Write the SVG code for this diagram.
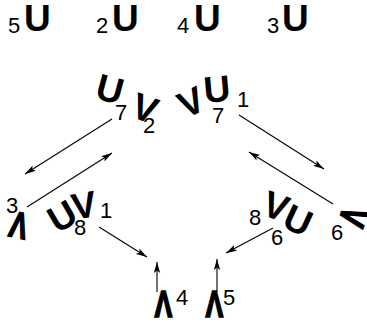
<svg xmlns="http://www.w3.org/2000/svg" width="367" height="323" viewBox="0 0 367 323">
<defs>
<marker id="ah" markerWidth="12" markerHeight="8" refX="11" refY="4" orient="auto" markerUnits="userSpaceOnUse">
<path d="M0,0.8 L11,4 L0,7.2 L2.5,4 Z" fill="#000"/>
</marker>
<style>
.b{font-family:"Liberation Sans",Arial,sans-serif;font-weight:bold;font-size:37px;fill:#000}
.d{font-family:"Liberation Sans",Arial,sans-serif;font-size:22px;fill:#000}
.c{text-anchor:middle}
.l{stroke:#000;stroke-width:1.6}
line{stroke:#000;stroke-width:1.1;marker-end:url(#ah)}
</style>
</defs>
<rect width="367" height="323" fill="#fff"/>
<g id="n1"><text class="d" x="8" y="33">5</text><text class="b" x="24" y="31">U</text></g>
<g id="n2"><text class="d" x="96" y="33">2</text><text class="b" x="112" y="31">U</text></g>
<g id="n3"><text class="d" x="177" y="33">4</text><text class="b" x="194" y="31">U</text></g>
<g id="n4"><text class="d" x="267" y="33">3</text><text class="b" x="282" y="31">U</text></g>
<g id="n5">
<text class="b c" transform="translate(110,89) rotate(15)" y="13">U</text>
<text class="d" x="115" y="120">7</text>
<text class="b c" transform="translate(145,108) rotate(20)" y="13">V</text>
<text class="d" x="143" y="133">2</text>
</g>
<g id="n6">
<text class="b c" transform="translate(191,102) rotate(-25)" y="13">V</text>
<text class="b c" transform="translate(217,89) rotate(-5)" y="13">U</text>
<text class="d" x="212" y="123">7</text>
<text class="d" x="237" y="107">1</text>
</g>
<g id="n7">
<text class="d" x="6" y="213">3</text>
<text class="b c l" transform="translate(19,225) rotate(12) scale(0.72,1)" y="13">Λ</text>
</g>
<g id="n8">
<text class="b c" transform="translate(62,216) rotate(-30)" y="13">U</text>
<text class="d" x="74" y="235">8</text>
<text class="b c" transform="translate(84,205) rotate(-10)" y="13">V</text>
<text class="d" x="100" y="218">1</text>
</g>
<g id="n9">
<text class="d" x="249" y="225">8</text>
<text class="b c" transform="translate(276,206) rotate(20)" y="13">V</text>
<text class="b c" transform="translate(298,220) rotate(25)" y="13">U</text>
<text class="d" x="271" y="245">6</text>
</g>
<g id="n10">
<text class="d" x="331" y="240">6</text>
<text class="b c l" transform="translate(353,217) rotate(-72) scale(0.72,1)" y="13">Λ</text>
</g>
<g id="n11"><text class="b c l" transform="translate(163.5,317) scale(0.72,1)">Λ</text><text class="d" x="176" y="305">4</text></g>
<g id="n12"><text class="b c l" transform="translate(214.5,317) scale(0.72,1)">Λ</text><text class="d" x="223" y="305">5</text></g>
<g id="edges">
<line x1="112" y1="119" x2="25" y2="174"/>
<line x1="27" y1="207" x2="112" y2="153"/>
<line x1="99" y1="227" x2="147" y2="257"/>
<line x1="157" y1="292" x2="157" y2="262"/>
<line x1="217" y1="292" x2="217" y2="259"/>
<line x1="273" y1="228" x2="226" y2="253"/>
<line x1="239" y1="115" x2="324" y2="169"/>
<line x1="333" y1="204" x2="249" y2="152"/>
</g>
</svg>
